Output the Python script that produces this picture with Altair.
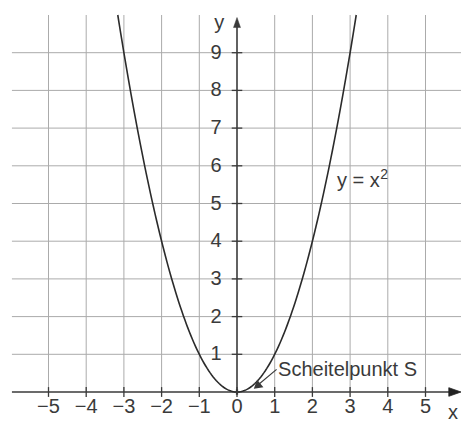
import altair as alt
import numpy as np
import pandas as pd

# --- data -------------------------------------------------------------
grid_x = [-5, -4, -3, -2, -1, 1, 2, 3, 4, 5]
grid_y = [1, 2, 3, 4, 5, 6, 7, 8, 9]
x_tick_values = [-5, -4, -3, -2, -1, 0, 1, 2, 3, 4, 5]
x_tick_labels = ["−5", "−4", "−3", "−2", "−1", "0", "1", "2", "3", "4", "5"]
y_tick_values = [1, 2, 3, 4, 5, 6, 7, 8, 9]
y_tick_labels = ["1", "2", "3", "4", "5", "6", "7", "8", "9"]

# the parabola y = x^2, drawn up to y = 10
curve_x = np.linspace(-np.sqrt(10), np.sqrt(10), 161)
curve_y = curve_x ** 2

# --- scales (one unit = 37.7 px, origin at 237/392) ----------------------
W, H = 461, 423
U, X0, Y0 = 37.7, 237, 392
xs = alt.Scale(domain=[-X0 / U, (W - X0) / U], nice=False, zero=False)
ys = alt.Scale(domain=[(Y0 - H) / U, Y0 / U], nice=False, zero=False)

GRID = "#ababab"
INK = "#3a3a3a"
FONT = "Liberation Sans"

ARROW_RIGHT = "M-1,-0.7L1,0L-1,0.7Z"
ARROW_UP = "M-0.7,1L0,-1L0.7,1Z"


def X(f):
    return alt.X(f, type="quantitative", scale=xs, axis=None)


def Y(f):
    return alt.Y(f, type="quantitative", scale=ys, axis=None)


# grid lines
vgrid = pd.DataFrame({"x": grid_x, "y1": 0, "y2": 10})
hgrid = pd.DataFrame({"y": grid_y, "x1": -5.97, "x2": 6.3})
grid_v = alt.Chart(vgrid).mark_rule(color=GRID, strokeWidth=1).encode(
    x=X("x"), y=Y("y1"), y2="y2")
grid_h = alt.Chart(hgrid).mark_rule(color=GRID, strokeWidth=1).encode(
    y=Y("y"), x=X("x1"), x2="x2")

# axes with arrowheads
xaxis = alt.Chart(pd.DataFrame({"x1": [-5.97], "x2": [5.75], "y": [0]})).mark_rule(
    color=INK, strokeWidth=1.6).encode(x=X("x1"), x2="x2", y=Y("y"))
yaxis = alt.Chart(pd.DataFrame({"y1": [-0.05], "y2": [9.75], "x": [0]})).mark_rule(
    color=INK, strokeWidth=1.6).encode(y=Y("y1"), y2="y2", x=X("x"))
xarrow = alt.Chart(pd.DataFrame({"x": [5.78], "y": [0]})).mark_point(
    shape=ARROW_RIGHT, filled=True, fill="#222222", stroke="#222222", strokeWidth=0.8,
    opacity=1, size=150).encode(x=X("x"), y=Y("y"))
yarrow = alt.Chart(pd.DataFrame({"x": [0], "y": [9.8]})).mark_point(
    shape=ARROW_UP, filled=True, fill=INK, stroke=INK, strokeWidth=0.5,
    opacity=1, size=100).encode(x=X("x"), y=Y("y"))

# tick marks
xt = pd.DataFrame({"x": x_tick_values, "y1": -0.13, "y2": 0.13, "label": x_tick_labels})
yt = pd.DataFrame({"y": y_tick_values, "x1": -0.14, "x2": 0.14, "label": y_tick_labels})
xticks = alt.Chart(xt).mark_rule(color=INK, strokeWidth=1.3).encode(
    x=X("x"), y=Y("y1"), y2="y2")
yticks = alt.Chart(yt).mark_rule(color=INK, strokeWidth=1.3).encode(
    y=Y("y"), x=X("x1"), x2="x2")

# tick labels
xlabels = alt.Chart(xt).mark_text(
    font=FONT, fontSize=20, color=INK, baseline="middle", align="center", dy=20
).encode(x=X("x"), y=alt.Y("y2", type="quantitative", scale=ys, axis=None),
         text="label:N")
ylabels = alt.Chart(yt).mark_text(
    font=FONT, fontSize=20, color=INK, baseline="middle", align="right", dx=-10
).encode(y=Y("y"), x=alt.X("x1", type="quantitative", scale=xs, axis=None),
         text="label:N")

# axis names
names = pd.DataFrame({"x": [5.73, -0.47], "y": [-0.55, 9.8], "t": ["x", "y"]})
axis_names = alt.Chart(names).mark_text(
    font=FONT, fontSize=20, color=INK, baseline="middle", align="center"
).encode(x=X("x"), y=Y("y"), text="t:N")

# the parabola
curve = alt.Chart(pd.DataFrame({"x": curve_x, "y": curve_y})).mark_line(
    color="#2b2b2b", strokeWidth=1.6).encode(x=X("x"), y=Y("y"), order="x:Q")

# vertex marker
vertex = alt.Chart(pd.DataFrame({"x": [0], "y": [0]})).mark_point(
    shape="cross", filled=True, color=INK, size=30, opacity=1).encode(
    x=X("x"), y=Y("y"))

# equation label y = x²
eq = alt.Chart(pd.DataFrame({"x": [2.65], "y": [5.6], "t": ["y = x"]})).mark_text(
    font=FONT, fontSize=20, color=INK, baseline="middle", align="left"
).encode(x=X("x"), y=Y("y"), text="t:N")
eq_sup = alt.Chart(pd.DataFrame({"x": [3.8], "y": [5.76], "t": ["2"]})).mark_text(
    font=FONT, fontSize=14, color=INK, baseline="middle", align="left"
).encode(x=X("x"), y=Y("y"), text="t:N")

# vertex annotation with pointer
s_label = alt.Chart(pd.DataFrame({"x": [1.09], "y": [0.58], "t": ["Scheitelpunkt S"]})).mark_text(
    font=FONT, fontSize=20, color=INK, baseline="middle", align="left"
).encode(x=X("x"), y=Y("y"), text="t:N")
pointer = alt.Chart(pd.DataFrame({"x1": [1.05], "y1": [0.6], "x2": [0.5], "y2": [0.14]})).mark_rule(
    color=INK, strokeWidth=1.2).encode(x=X("x1"), y=Y("y1"), x2="x2", y2="y2")
pointer_head = alt.Chart(pd.DataFrame({"x": [0.56], "y": [0.18]})).mark_point(
    shape="triangle", angle=230, filled=True, fill=INK, stroke=INK, size=40, opacity=1).encode(
    x=X("x"), y=Y("y"))

chart = alt.layer(
    grid_v, grid_h, xaxis, yaxis, xarrow, yarrow, xticks, yticks,
    xlabels, ylabels, axis_names, curve, vertex, eq, eq_sup,
    pointer, pointer_head, s_label,
).properties(
    width=W, height=H, padding=0, autosize=alt.AutoSizeParams(type="none"),
    background="white",
).configure_view(stroke=None)

chart.save("out.html", embed_options={"renderer": "svg", "actions": False})
